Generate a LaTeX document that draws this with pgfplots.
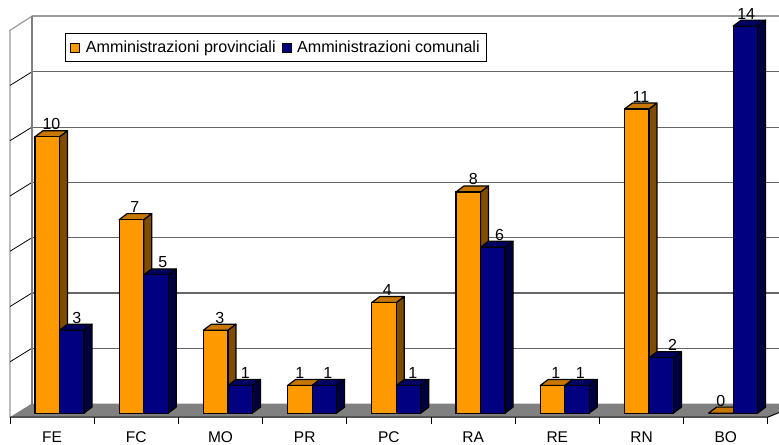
\documentclass[border=0pt]{standalone}
\usepackage{fontspec}
\setmainfont{Liberation Sans}
\usepackage{pgfplots}
\usepackage{pgfplotstable}
\pgfplotsset{compat=1.18}
\definecolor{ofront}{HTML}{FF9900}
\definecolor{oside}{HTML}{804C00}
\definecolor{otop}{HTML}{C77700}
\definecolor{bfront}{HTML}{000080}
\definecolor{bside}{HTML}{000040}
\definecolor{btop}{HTML}{000060}
\definecolor{wallgrey}{HTML}{9A9A9A}
\definecolor{gridgrey}{HTML}{666666}
\definecolor{floorgrey}{HTML}{808080}
\pgfplotstableread{
pos prov com pdx cdx
0.588 10 3 0.05 0.06
1.588 7 5 0.04 0.08
2.588 3 1 0.05 0.06
3.588 1 1 0.00 0.04
4.588 4 1 0.04 0.05
5.588 8 6 0.06 0.08
6.588 1 1 0.04 0.04
7.588 11 2 0.05 0.135
8.588 0 14 0.00 0.01
}\datatable
\pgfmathsetmacro{\dX}{0.095}
\pgfmathsetmacro{\dY}{0.217}
\pgfmathsetmacro{\bw}{0.291}
% side and top faces of one bar: #1 column, #2 left offset, #3 side, #4 top
\newcommand{\faces}[4]{%
  \pgfplotsinvokeforeach{0,...,8}{%
    \pgfplotstablegetelem{##1}{#1}\of{\datatable}\let\vv\pgfplotsretval
    \pgfplotstablegetelem{##1}{pos}\of{\datatable}\let\pp\pgfplotsretval
    \pgfmathsetmacro{\xa}{\pp+#2}
    \pgfmathsetmacro{\xb}{\xa+\bw}
    \pgfmathsetmacro{\xc}{\xb+\dX}
    \pgfmathsetmacro{\xd}{\xa+\dX}
    \pgfmathsetmacro{\yt}{\vv+\dY}
    \addplot[forget plot,fill=#3,draw=black,line width=1.2pt,line join=round] coordinates {(\xb,0) (\xc,\dY) (\xc,\yt) (\xb,\vv)} --cycle;
    \addplot[forget plot,fill=#4,draw=black,line width=1.2pt,line join=round] coordinates {(\xa,\vv) (\xd,\yt) (\xc,\yt) (\xb,\vv)} --cycle;
  }%
}
\begin{document}
\begin{tikzpicture}
\begin{axis}[
  width=779pt,height=444pt,scale only axis,
  xmin=-0.11876,xmax=9.1330,ymin=-1.1216,ymax=14.942,
  axis line style={draw=none},
  major tick length=0pt,
  ytick=\empty,
  xtick={0.5,1.5,2.5,3.5,4.5,5.5,6.5,7.5,8.5},
  xticklabels={FE,FC,MO,PR,PC,RA,RE,RN,BO},
  xticklabel style={font=\fontsize{15.5}{17}\selectfont,anchor=center,yshift=7pt},
  tick label style={inner sep=0pt},
  /pgf/number format/assume math mode=true,
  legend style={at={(65/779,1-33/444)},anchor=north west,draw=black,line width=0.9pt,
    font=\fontsize{16.1}{18}\selectfont,inner xsep=5pt,inner ysep=5.5pt,
    /tikz/every odd column/.append style={column sep=3.5pt},
    /tikz/every even column/.append style={column sep=4pt}},
  legend columns=2,
  legend cell align=left,
  nodes near coords style={font=\fontsize{16}{18}\selectfont,anchor=base,yshift=7pt,inner sep=0pt},
]
% floor
\addplot[forget plot,fill=floorgrey,draw=none] coordinates {(0,-0.145) (0.261,0.347) (9.4,0.347) (9,-0.145)} --cycle;
% left wall
\addplot[forget plot,draw=wallgrey,line width=1.2pt] coordinates {(0,-0.145) (0,13.85) (0.261,14.36) (0.261,0.347)};
% back wall grid lines
\pgfplotsinvokeforeach{2,4,...,12}{
  \pgfmathsetmacro{\ff}{#1-0.145}
  \pgfmathsetmacro{\bb}{#1+0.347}
  \addplot[forget plot,draw=black,line width=0.8pt] coordinates {(0,\ff) (0.261,\bb)};
  \addplot[forget plot,draw=gridgrey,line width=1.2pt] coordinates {(0.261,\bb) (9.4,\bb)};
}
\addplot[forget plot,draw=wallgrey,line width=1.8pt] coordinates {(0.261,14.36) (9.4,14.36)};
\addplot[forget plot,draw=floorgrey,line width=1.6pt] coordinates {(0.261,0) (0.261,14.36)};
\addplot[forget plot,draw=black,line width=1pt] coordinates {(0,-0.145) (9,-0.145) (9.4,0.347)};
% tick marks on the front edge
\pgfplotsinvokeforeach{0,...,9}{
  \addplot[forget plot,draw=black,line width=0.8pt] coordinates {(#1,-0.145) (#1,-0.4)};
}
% orange series
\faces{prov}{-0.291}{oside}{otop}
\addplot[forget plot,ybar,bar width=\bw,bar shift=-0.1455,fill=ofront,draw=black,line width=1.2pt] table[x=pos,y=prov] {\datatable};
% blue series
\faces{com}{0}{bside}{btop}
\addplot[forget plot,ybar,bar width=\bw,bar shift=0.1455,fill=bfront,draw=black,line width=1.2pt] table[x=pos,y=com] {\datatable};
% value labels
\addplot[forget plot,draw=none,no marks,nodes near coords] table[x expr=\thisrow{pos}-0.1455+\thisrow{pdx},y=prov] {\datatable};
\addplot[forget plot,draw=none,no marks,nodes near coords] table[x expr=\thisrow{pos}+0.1455+\thisrow{cdx},y=com] {\datatable};
% legend
\addlegendimage{legend image code/.code={\draw[fill=ofront,draw=black,line width=1pt] (0pt,-4.5pt) rectangle (9pt,4.5pt);},}
\addlegendentry{Amministrazioni provinciali}
\addlegendimage{legend image code/.code={\draw[fill=bfront,draw=black,line width=1pt] (0pt,-4.5pt) rectangle (9pt,4.5pt);},}
\addlegendentry{Amministrazioni comunali}
\end{axis}
\end{tikzpicture}
\end{document}
